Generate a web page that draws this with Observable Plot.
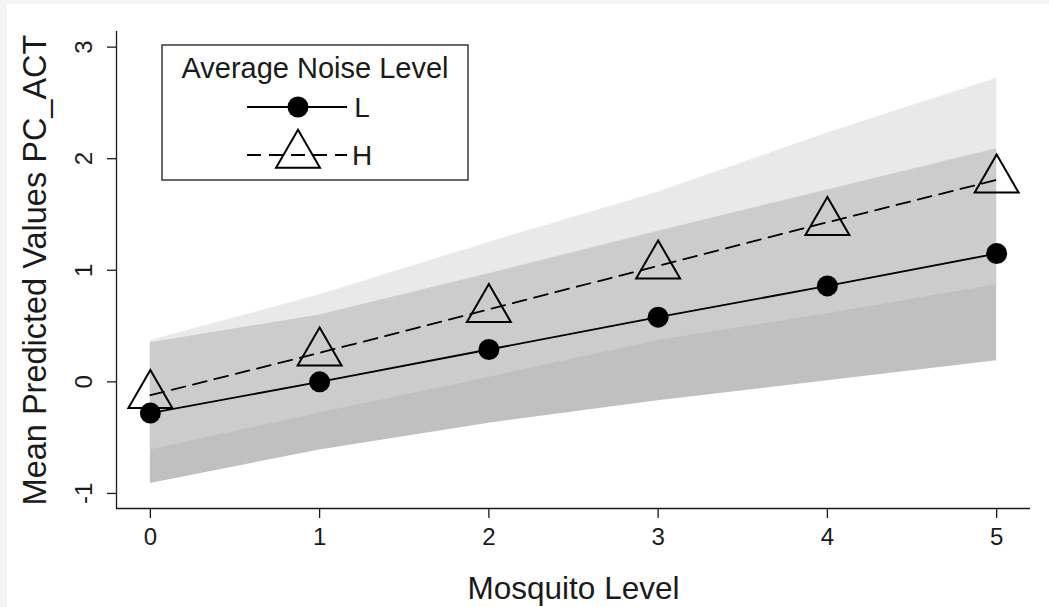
<!DOCTYPE html>
<html>
<head>
<meta charset="utf-8">
<script src="https://cdn.jsdelivr.net/npm/d3@7"></script>
<script src="https://cdn.jsdelivr.net/npm/@observablehq/plot@0.6"></script>
<style>
  html, body { margin: 0; padding: 0; background: #f4f4f4; }
  #paper { position: absolute; left: 7px; top: 4px; right: 0; bottom: 0; background: #ffffff; }
  #chart { position: absolute; left: 0; top: 0; }
</style>
</head>
<body>
<div id="paper"></div>
<div id="chart"></div>
<script>
// Mosquito level on the x axis
const mosquito = [0, 1, 2, 3, 4, 5];

// Low average noise: mean predicted PC_ACT and its confidence band
const lowMean  = [-0.28, 0.00, 0.29, 0.58, 0.86, 1.15];
const lowLo    = [-0.91, -0.61, -0.37, -0.17, 0.01, 0.19];
const lowHi    = [0.35, 0.60, 0.97, 1.35, 1.72, 2.09];

// High average noise: mean predicted PC_ACT and its confidence band
const highMean = [-0.12, 0.26, 0.65, 1.04, 1.43, 1.81];
const highLo   = [-0.61, -0.28, 0.04, 0.37, 0.61, 0.87];
const highHi   = [0.37, 0.78, 1.25, 1.70, 2.23, 2.72];

// Axis ticks and extents
const xTicks = [0, 1, 2, 3, 4, 5];
const yTicks = [-1, 0, 1, 2, 3];
const xDomain = [-0.2, 5.2];
const yDomain = [-1.135, 3.14];

const legendTitle = "Average Noise Level";
const seriesNames = ["L", "H"];

const low = mosquito.map((x, i) => ({x, mean: lowMean[i], lo: lowLo[i], hi: lowHi[i]}));
const high = mosquito.map((x, i) => ({x, mean: highMean[i], lo: highLo[i], hi: highHi[i]}));

const FONT = "Liberation Sans, Arial, Helvetica, sans-serif";
const INK = "#1a1a1a";
const DASH = "14,8";

const plot = Plot.plot({
  width: 1049,
  height: 607,
  marginLeft: 116,
  marginRight: 19,
  marginTop: 31,
  marginBottom: 99,
  style: {fontFamily: FONT, color: INK, background: "transparent"},
  x: {domain: xDomain},
  y: {domain: yDomain},
  marks: [
    // confidence bands: low band opaque underneath, high band translucent on top
    Plot.areaY(low, {x: "x", y1: "lo", y2: "hi", fill: "#c0c0c0"}),
    Plot.areaY(high, {x: "x", y1: "lo", y2: "hi", fill: "#d6d6d6", fillOpacity: 0.54}),
    // axis lines
    Plot.ruleX([xDomain[0]], {stroke: INK, strokeWidth: 1.3}),
    Plot.ruleY([yDomain[0]], {stroke: INK, strokeWidth: 1.3}),
    Plot.axisX({ticks: xTicks, tickSize: 10, tickPadding: 9, fontSize: 24,
                tickFormat: d => String(d), label: null, stroke: INK, strokeWidth: 1.3}),
    Plot.axisY({ticks: yTicks, tickSize: 9, tickFormat: () => "", label: null,
                stroke: INK, strokeWidth: 1.3}),
    // rotated y tick labels
    Plot.text(yTicks, {y: d => d, text: d => String(d), frameAnchor: "left", dx: -32,
                       rotate: -90, textAnchor: "middle", lineAnchor: "middle",
                       fontSize: 24, fill: INK}),
    // axis titles
    Plot.text(["Mean Predicted Values PC_ACT"], {frameAnchor: "left", dx: -81, rotate: -90,
                       textAnchor: "middle", lineAnchor: "middle", fontSize: 32.5, fill: INK}),
    Plot.text(["Mosquito Level"], {frameAnchor: "bottom", dy: 80,
                       textAnchor: "middle", lineAnchor: "middle", fontSize: 31.5, fill: INK}),
    // mean lines
    Plot.line(low, {x: "x", y: "mean", stroke: "#000", strokeWidth: 1.8}),
    Plot.line(high, {x: "x", y: "mean", stroke: "#000", strokeWidth: 1.8, strokeDasharray: DASH}),
    // markers
    Plot.dot(low, {x: "x", y: "mean", r: 10.5, fill: "#000", stroke: "none"}),
    Plot.dot(high, {x: "x", y: "mean", r: 16.3, symbol: "triangle", fill: "none",
                    stroke: "#000", strokeWidth: 2})
  ]
});

document.getElementById("chart").appendChild(plot);

// legend box drawn inside the plot area
const svg = d3.select(plot);
const g = svg.append("g").attr("font-family", FONT).attr("fill", INK);
g.append("rect").attr("x", 162).attr("y", 45).attr("width", 306).attr("height", 135)
  .attr("fill", "#fff").attr("stroke", "#2a2a2a").attr("stroke-width", 1.4);
g.append("text").attr("x", 315).attr("y", 78).attr("text-anchor", "middle")
  .attr("font-size", 29).text(legendTitle);

const rows = [
  {name: seriesNames[0], y: 107, dash: null, symbol: "circle"},
  {name: seriesNames[1], y: 155, dash: DASH, symbol: "triangle"}
];
for (const row of rows) {
  const line = g.append("line").attr("x1", 247).attr("x2", 347)
    .attr("y1", row.y).attr("y2", row.y)
    .attr("stroke", "#000").attr("stroke-width", 1.8);
  if (row.dash) line.attr("stroke-dasharray", row.dash);
  if (row.symbol === "circle") {
    g.append("circle").attr("cx", 298).attr("cy", row.y).attr("r", 10.5).attr("fill", "#000");
  } else {
    g.append("path")
      .attr("d", d3.symbol(d3.symbolTriangle, 16.3 * 16.3 * Math.PI)())
      .attr("transform", `translate(298,${row.y})`)
      .attr("fill", "none").attr("stroke", "#000").attr("stroke-width", 2);
  }
  g.append("text").attr("x", 362).attr("y", row.y + 10).attr("font-size", 28).text(row.name);
}
</script>
</body>
</html>
